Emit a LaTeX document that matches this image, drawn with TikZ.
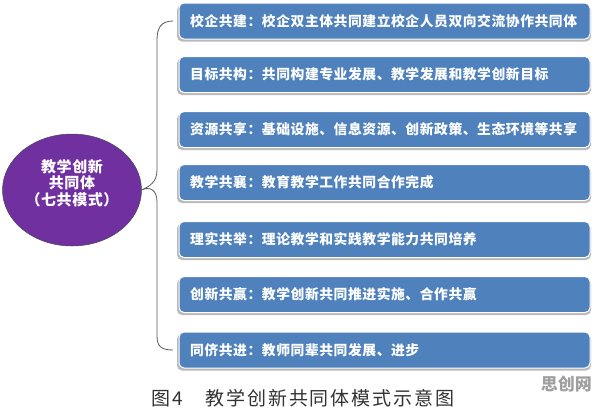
\documentclass[tikz,border=0pt]{standalone}
\usepackage{fontspec}
\newfontfamily\cjk{Noto Sans CJK SC}
\newfontfamily\cjkwide[LetterSpace=4]{Noto Sans CJK SC}
\newfontfamily\cjkcap[LetterSpace=10]{Noto Sans CJK SC}
\usetikzlibrary{shapes.geometric,calc}
\definecolor{boxblue}{HTML}{4F81BD}
\definecolor{purp}{HTML}{7030A0}
\definecolor{capgray}{HTML}{333333}
\begin{document}
\begin{tikzpicture}[x=1pt,y=-1pt,
  bx/.style={rounded corners=5pt, fill=boxblue, draw=white, line width=1pt},
  shd/.style={rounded corners=5pt, fill=gray!55, draw=none},
  btext/.style={anchor=west, text=white, font=\cjkwide\bfseries\fontsize{13.8}{16}\selectfont, inner sep=0pt},
  brace/.style={draw=gray!70!black, line width=0.8pt}
]
\useasboundingbox (0,0) rectangle (596,408);
\fill[white] (0,0) rectangle (596,408);
% ellipse
\node[ellipse, fill=purp, draw=gray!60!black, line width=0.5pt, minimum width=139pt, minimum height=112pt, inner sep=0pt] (ell) at (72,190) {};
\node[text=white, align=center, font=\cjkwide\bfseries\fontsize{15}{16.5}\selectfont] (etext) at (72,183) {教学创新\\共同体\\（七共模式）};
% boxes
\foreach \i/\yc/\t in {1/21/{校企共建：校企双主体共同建立校企人员双向交流协作共同体},
                       2/74.5/{目标共构：共同构建专业发展、教学发展和教学创新目标},
                       3/129.5/{资源共享：基础设施、信息资源、创新政策、生态环境等共享},
                       4/182.5/{教学共襄：教育教学工作共同合作完成},
                       5/239.5/{理实共举：理论教学和实践教学能力共同培养},
                       6/294.5/{创新共赢：教学创新共同推进实施、合作共赢},
                       7/350/{同侪共进：教师同辈共同发展、进步}}{
  \fill[shd] (177,\yc-16) rectangle (591,\yc+20.5);
  \path[bx] (179,\yc-18) rectangle (590,\yc+18);
  \coordinate (b\i) at (179,\yc);
  \node[btext] (t\i) at (190,\yc) {\t};
}
% brace
\coordinate (bw1) at ($(b1)+(-6,0)$);
\coordinate (bw7) at ($(b7)+(-6,0)$);
\draw[brace] (bw1) .. controls (161,21) and (157,28) .. (157,40)
  -- (157,170) .. controls (157,182) and (150,186) .. (ell.east)
  .. controls (150,186) and (157,190) .. (157,202)
  -- (157,336) .. controls (157,346) and (161,350) .. (bw7);
% caption
\node[anchor=west, text=capgray, font=\cjkcap\fontsize{19}{20}\selectfont, inner sep=0pt] (cap) at (151,398) {图4\hspace{1.2em}教学创新共同体模式示意图};
\node[anchor=east, text=gray!75, font=\cjk\bfseries\fontsize{17}{18}\selectfont, inner sep=0pt] (wm) at (592,384) {思创网};
\end{tikzpicture}
\end{document}
